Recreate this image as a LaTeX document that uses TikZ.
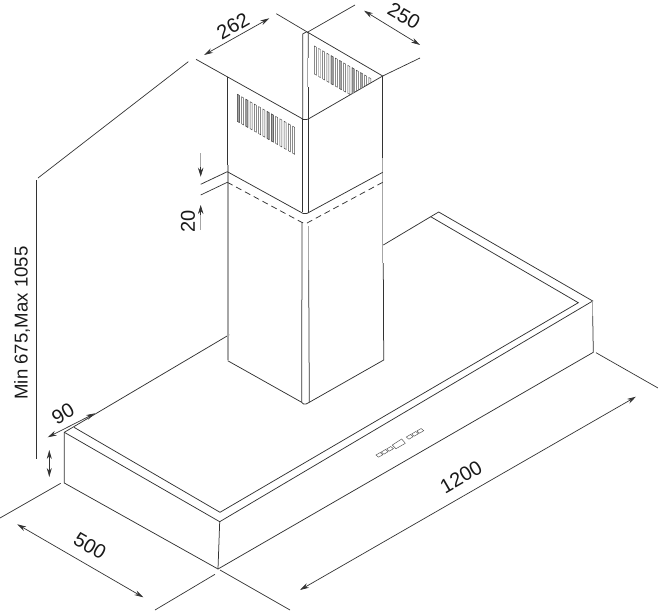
\documentclass[tikz,border=0pt]{standalone}
\usepackage{fontspec}
\setmainfont{Liberation Sans}
\usetikzlibrary{arrows.meta}
\begin{document}
\begin{tikzpicture}
    [x=1pt,y=-1pt,
    body/.style={draw=black!80,line width=0.75pt},
    fade/.style={draw=black!35,line width=1.1pt},
    hidden/.style={body,dash pattern=on 6pt off 4pt},
    guide/.style={draw=black!80,line width=0.7pt},
    dimen/.style={draw=black!80,line width=0.7pt,{Stealth[length=9pt,width=5pt]}-{Stealth[length=9pt,width=5pt]}},
    tip/.style={draw=black!80,line width=0.7pt,-{Stealth[length=9pt,width=5.5pt]}},
    dimlabel/.style={font=\fontsize{20}{22}\selectfont,text=black!90,inner sep=0pt},
    slat/.style={draw=black!70,line width=0.45pt},
    slat fill/.style={slat,fill=black!35}]

\useasboundingbox (0,0) rectangle (658,610);

%hood outer edges
\draw[body] (229.3,334.7) -- (64.3,432.3) -- (64.3,483) -- (218,569) -- (593.3,352.3) -- (592.7,316);
\draw[body] (64.3,432.3) -- (219.7,521.7) -- (592.7,301) -- (438.7,212) -- (430.7,216.7);
\draw[body] (219.7,521.7) -- (218,569);
\draw[fade] (592.7,301) -- (592.7,316);

%hood inner edges
\draw[body] (383.3,245) -- (430.7,216.7) -- (578.3,302.7) -- (220,512.3) -- (74,427.3);

%control panel
\draw[slat] (392.3,445) -- (401.7,439) -- (405.3,443.3) -- (396,448.7) -- cycle;
\foreach \x/\y in {376/455,381.3/452,386.6/449,406.3/437,411.6/434,416.9/431}
    \draw[slat] (\x,\y) -- ++(4.2,-2.5) -- ++(2.6,2.2) -- ++(-4.2,2.5) -- cycle;

%chimney outline
\draw[body] (227.3,165) -- (227.3,77.3);
\draw[body] (196,59.3) -- (301,118) -- (303,119.6) -- (306,119.6) -- (308.3,119) -- (382.7,76) -- (306.7,31.7) -- (302.7,34) -- (302.7,119);
\draw[body] (302,119) -- (302,212);
\draw[body] (306.7,31.7) -- (308.3,33) -- (308.3,58);
\draw[body] (308.3,87) -- (308.3,212.7);
\draw[fade] (307.8,58) -- (307.8,87);
\draw[body] (382.7,76) -- (382.7,158);
\draw[fade] (382.9,158) -- (382.9,263);
\draw[body] (383.3,263) -- (383.7,360) -- (309.3,402.3) -- (306,404) -- (303.5,404) -- (301.7,402.3) -- (227.7,360.7);
\draw[fade] (228,165) -- (228,360);
\draw[body] (302,222) -- (301.7,402.3);
\draw[body] (308.7,270) -- (309.3,402.3);
\draw[fade] (308.7,226) -- (308.7,270);

%joint between the two chimney sections
\draw[body] (200.7,184.3) -- (227.3,171.7) -- (301.7,212.7) -- (303,213.4) -- (307,213.4) -- (308.3,212.7) -- (382.7,172.3);
\draw[guide] (200.7,195) -- (227.3,182.3);
\draw[hidden] (227.3,182.3) -- (301.7,222.3) -- (304,223.2) -- (307,223.2) -- (308.3,222.3) -- (382.7,182.3);

%front vent
\foreach \i in {0,...,13}
    \draw[slat] ({237.3+4.25*\i},{94.3+2.45*\i}) -- ++(2,1.15) -- ++(0,27) -- ++(-2,-1.15) -- cycle;
\foreach \i in {0,2,7,8}
    \draw[slat fill] ({237.3+4.25*\i},{94.3+2.45*\i}) -- ++(2,1.15) -- ++(0,27) -- ++(-2,-1.15) -- cycle;

%rear vent, cut off by the front edge of the opening
\begin{scope}
\clip (308.3,30) -- (382.7,30) -- (382.7,76) -- (308.3,119) -- cycle;
\foreach \i in {0,...,13}
    \draw[slat] ({314.3+4.2*\i},{46+2.42*\i}) -- ++(2,1.15) -- ++(0,28) -- ++(-2,-1.15) -- cycle;
\foreach \i in {4,6,9,11}
    \draw[slat fill] ({314.3+4.2*\i},{46+2.42*\i}) -- ++(2,1.15) -- ++(0,28) -- ++(-2,-1.15) -- cycle;
\end{scope}

%extension lines
\draw[guide] (38,178) -- (188.3,61.7);
\draw[guide] (36.5,180) -- (36.5,459);
\draw[guide] (276.3,13.7) -- (306.7,31.7);
\draw[guide] (355,5) -- (308.3,31.7);
\draw[guide] (382.7,76) -- (420,58);
\draw[guide] (60.7,483.3) -- (0,518);
\draw[guide] (215,574.3) -- (155,610);
\draw[guide] (220,570) -- (290,610);
\draw[guide] (596,352.7) -- (658,388);

%dimension arrows
\draw[dimen] (204,55) -- (269.3,18.3);
\draw[dimen] (364,10.7) -- (420,45);
\draw[dimen] (47.7,437.3) -- (95,413.3);
\draw[dimen] (49.3,450) -- (49.3,477);
\draw[dimen] (17.3,524.3) -- (143.3,597.3);
\draw[dimen] (300,590) -- (636,396.7);

%the 20 arrows have grey shafts
\draw[fade] (200.7,153) -- (200.7,170);
\draw[tip] (200.7,167) -- (200.7,176.7);
\draw[fade] (200.7,230) -- (200.7,212);
\draw[tip] (200.7,215) -- (200.7,205);

%labels
\node[dimlabel,rotate=30] (depth top) at (233,26) {262};
\node[dimlabel,rotate=-30] (width top) at (404,16) {250};
\node[dimlabel,rotate=90] (joint) at (188,221) {20};
\node[dimlabel,rotate=90,font=\fontsize{18.6}{20}\selectfont] (height) at (22,323) {Min 675,Max 1055};
\node[dimlabel,rotate=30] (rim) at (63,414) {90};
\node[dimlabel,rotate=-30] (depth) at (90,546) {500};
\node[dimlabel,rotate=30] (width) at (461,477) {1200};

\end{tikzpicture}
\end{document}
